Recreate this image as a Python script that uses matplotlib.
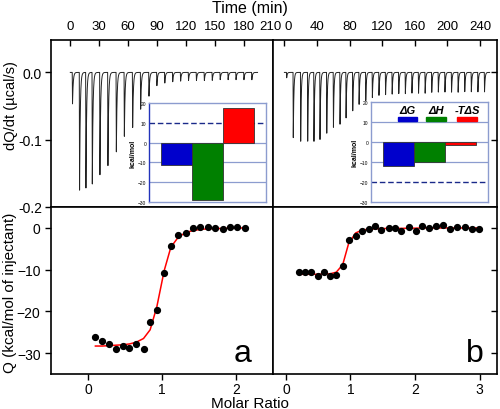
import numpy as np
import matplotlib
matplotlib.use('Agg')
import matplotlib.pyplot as plt
from matplotlib.patches import Rectangle
from matplotlib.transforms import ScaledTranslation

plt.rcParams['font.family'] = ['Liberation Sans', 'DejaVu Sans']

# ---- thermogram (a): injection times (min) and peak depths (ucal/s)
timesA = [2.0, 9.3, 15.9, 22.5, 30.4, 38.7, 47.4, 55.7, 64.3, 72.6, 81.2, 89.4, 97.6,
          105.8, 114.0, 122.2, 130.4, 138.6, 146.8, 155.0, 163.2, 171.4, 179.6, 187.8]
depthsA = [-0.047, -0.176, -0.172, -0.167, -0.153, -0.139, -0.119, -0.095, -0.083, -0.055,
           -0.036, -0.020, -0.016, -0.014, -0.013, -0.012, -0.012, -0.012, -0.012, -0.011,
           -0.011, -0.011, -0.011, -0.011]

# ---- thermogram (b)
timesB = [2.5, 10.6, 19.7, 28.3, 36.0, 43.4, 51.7, 59.9, 68.0, 75.4, 83.6, 91.4, 99.6,
          107.7, 115.8, 123.9, 132.0, 140.1, 148.2, 156.3, 164.4, 172.5, 180.6, 188.7,
          196.8, 204.9, 213.0, 221.1, 229.2, 237.3, 245.4]
depthsB = [-0.008, -0.097, -0.103, -0.103, -0.105, -0.101, -0.092, -0.082, -0.077, -0.068,
           -0.058, -0.048, -0.042, -0.038, -0.035, -0.034, -0.033, -0.032, -0.032, -0.031,
           -0.031, -0.031, -0.030, -0.030, -0.030, -0.030, -0.030, -0.029, -0.029, -0.029,
           -0.029]

# ---- integrated heats (a)
ratioA = [0.10, 0.195, 0.286, 0.376, 0.47, 0.56, 0.65, 0.75, 0.84, 0.93, 1.03, 1.12, 1.22,
          1.32, 1.42, 1.52, 1.62, 1.72, 1.82, 1.92, 2.02, 2.12]
heatA = [-26.1, -27.2, -27.8, -29.0, -28.3, -28.7, -27.7, -29.0, -22.6, -19.6, -10.9, -4.4,
         -1.6, -1.2, 0.0, 0.2, 0.2, 0.0, -0.2, 0.2, 0.3, 0.0]
fitA = [-28.3, -28.3, -28.2, -28.1, -28.0, -27.8, -27.4, -26.5, -24.4, -18.9, -10.2, -4.6,
        -2.2, -1.1, -0.6, -0.35, -0.2, -0.15, -0.1, -0.05, 0.0, 0.0]

# ---- integrated heats (b)
ratioB = [0.20, 0.30, 0.39, 0.49, 0.59, 0.68, 0.78, 0.88, 0.97, 1.08, 1.18, 1.28, 1.38, 1.48,
          1.59, 1.69, 1.79, 1.90, 2.01, 2.11, 2.22, 2.32, 2.43, 2.54, 2.65, 2.77, 2.88, 2.99]
heatB = [-10.6, -10.6, -10.5, -11.4, -10.5, -11.5, -11.2, -9.0, -3.0, -2.0, -0.7, -0.3, 0.5,
         -0.4, 0.1, 0.0, -0.8, 0.3, -0.7, 0.5, 0.1, 0.5, 0.6, -0.3, 0.2, 0.3, -0.2, -0.3]
fitB = [-11.1, -11.1, -11.1, -11.1, -11.05, -11.0, -10.6, -8.8, -3.8, -1.2, -0.5, -0.3, -0.2,
        -0.15, -0.1, -0.1, -0.1, -0.05, -0.05, 0.0, 0.0, 0.0, 0.0, 0.0, 0.0, 0.0, 0.0, 0.0]

# ---- thermodynamic signatures (kcal/mol)
thermoLabels = ['\u0394G', '\u0394H', '-T\u0394S']
thermoA = [-11.5, -29.0, 17.5]
thermoB = [-12.0, -10.0, -1.5]
thermoColors = ['#0000cc', '#008000', '#ff0000']


def thermogram(times, depths, tEnd):
    # sharp drop at each injection, then fast exponential return to baseline
    t = np.linspace(0, tEnd, 8000)
    y = np.zeros_like(t)
    for t0, d in zip(times, depths):
        drop = (t >= t0) & (t < t0 + 0.3)
        y[drop] += d * (t[drop] - t0) / 0.3
        rec = t >= t0 + 0.3
        y[rec] += d * np.exp(-(t[rec] - t0 - 0.3) / 0.7)
    return t, y


def px(x, y):
    return x / 500.0, 1 - y / 410.0


fig = plt.figure(figsize=(5, 4.1), dpi=100)
axTL = fig.add_axes([0.102, 0.4927, 0.444, 0.407])
axTR = fig.add_axes([0.546, 0.4927, 0.448, 0.407])
axBL = fig.add_axes([0.102, 0.0854, 0.444, 0.407])
axBR = fig.add_axes([0.546, 0.0854, 0.448, 0.407])

for ax in [axTL, axTR, axBL, axBR]:
    for s in ax.spines.values():
        s.set_linewidth(1.2)
    ax.tick_params(labelsize=10, length=4, width=1)

# top panels: raw heat
t, y = thermogram(timesA, depthsA, 194)
axTL.plot(t, y, color='#222222', lw=0.7)
t, y = thermogram(timesB, depthsB, 252)
axTR.plot(t, y, color='#222222', lw=0.7)

for ax in [axTL, axTR]:
    ax.set_ylim(-0.2, 0.048)
    ax.xaxis.tick_top()
    ax.tick_params(axis='x', direction='in', top=True, bottom=False, labeltop=True,
                   labelbottom=False, pad=6, labelsize=9.5)
axTL.set_xlim(-20, 210)
axTL.set_xticks(np.arange(0, 211, 30))
axTL.set_yticks([-0.2, -0.1, 0.0])
axTL.set_yticklabels(['-0.2', '-0.1', '0.0'])
axTL.tick_params(axis='y', direction='out', right=True, pad=2.5)
axTR.set_xlim(-14, 261)
axTR.set_xticks(np.arange(0, 241, 40))
axTR.set_yticks([-0.2, -0.1, 0.0])
axTR.tick_params(axis='y', direction='in', left=False, right=True, labelleft=False)

# the "210" and "0" labels touch at the panel join; nudge them apart a little
lab210 = axTL.get_xticklabels()[-1]
lab210.set_transform(lab210.get_transform() + ScaledTranslation(-2 / 72, 0, fig.dpi_scale_trans))
lab0 = axTR.get_xticklabels()[0]
lab0.set_transform(lab0.get_transform() + ScaledTranslation(3 / 72, 0, fig.dpi_scale_trans))

# bottom panels: integrated heats
axBL.plot(ratioA, fitA, color='red', lw=1.1, zorder=2)
axBL.plot(ratioA, heatA, 'o', color='black', ms=4.2, zorder=3)
axBR.plot(ratioB, fitB, color='red', lw=1.1, zorder=2)
axBR.plot(ratioB, heatB, 'o', color='black', ms=4.2, zorder=3)
for ax in [axBL, axBR]:
    ax.set_ylim(-35, 5)
    ax.set_yticks([-30, -20, -10, 0])
    ax.tick_params(axis='x', pad=2)
axBL.set_xlim(-0.5, 2.5)
axBL.set_xticks([0, 1, 2])
axBL.tick_params(axis='y', direction='out', right=True)
axBR.set_xlim(-0.2, 3.27)
axBR.set_xticks([0, 1, 2, 3])
axBR.tick_params(axis='y', direction='in', left=False, right=True, labelleft=False)
fig.text(*px(243, 362), 'a', fontsize=23, ha='center', va='baseline')
fig.text(*px(475, 362), 'b', fontsize=23, ha='center', va='baseline')

# axis labels
fig.text(*px(250, 9), 'Time (min)', fontsize=11.5, ha='center', va='center')
fig.text(*px(250, 404), 'Molar Ratio', fontsize=11, ha='center', va='center')
fig.text(*px(11, 106), 'dQ/dt (\u00b5cal/s)', fontsize=10.5, rotation=90,
         ha='center', va='center')
fig.text(*px(10, 293), 'Q (kcal/mol of injectant)', fontsize=11, rotation=90,
         ha='center', va='center')


def drawInset(rect, values, dashY, leftSpine):
    ax = fig.add_axes(rect, zorder=5)
    ax.set_xlim(-0.387, 3.387)
    ax.set_ylim(-30, 20)
    for g in [-20, -10, 0, 10]:
        if g == dashY:
            ax.axhline(g, color='#1a2a8a', lw=1.0, ls=(0, (4, 2)), zorder=1)
        else:
            ax.axhline(g, color='#8c9ccf', lw=0.9, zorder=1)
    ax.bar([0, 1, 2], values, width=1, align='edge', color=thermoColors,
           edgecolor='#333333', lw=0.6, zorder=3)
    for s in ax.spines.values():
        s.set_color('#8c9ccf')
        s.set_linewidth(1.0)
    ax.spines['left'].set_color(leftSpine)
    ax.set_xticks([])
    ax.set_yticks([-30, -20, -10, 0, 10, 20])
    ax.tick_params(axis='y', length=0, labelsize=3.5, pad=2)
    ax.set_ylabel('kcal/mol', fontsize=5, fontweight='bold', labelpad=1)
    return ax


inA = drawInset([0.298, 0.505, 0.234, 0.2415], thermoA, 10, '#2233bb')
inB = drawInset([0.742, 0.505, 0.234, 0.244], thermoB, -20, '#8c9ccf')

# legend of inset b: labels over coloured strips
legX = [0.31, 0.555, 0.82]
for lab, c, x in zip(thermoLabels, thermoColors, legX):
    inB.text(x, 0.915, lab, transform=inB.transAxes, fontsize=8, fontweight='bold',
             style='italic', ha='center', va='center', zorder=6)
    inB.add_patch(Rectangle((x - 0.082, 0.81), 0.164, 0.035, transform=inB.transAxes,
                            color=c, zorder=6))

fig.savefig('out.png', dpi=100)
